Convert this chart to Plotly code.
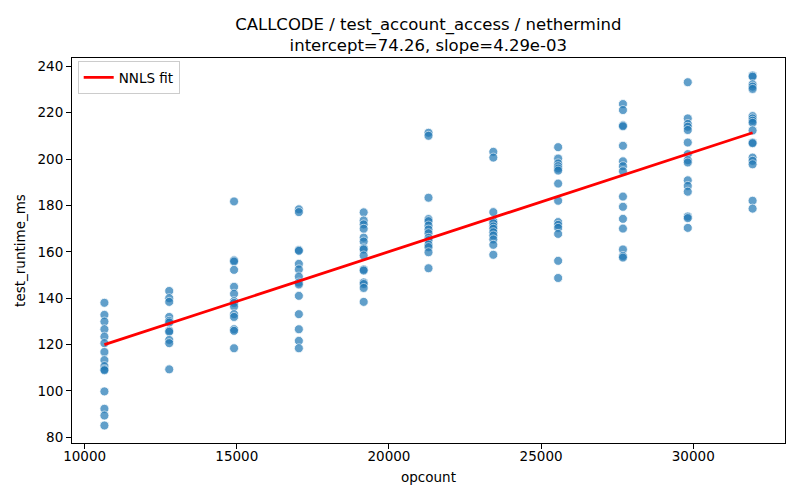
# %%
import plotly.graph_objects as go

# opcount levels (x) and measured runtimes per level
opcounts = [10650, 12780, 14910, 17040, 19170, 21300, 23430, 25560, 27690, 29820, 31950]

rt_10650 = [138.0, 132.8, 129.9, 126.6, 123.4, 120.6, 116.8, 113.3, 110.7, 109.3, 108.9, 99.8, 92.3, 89.4, 85.1]
rt_12780 = [143.1, 140.0, 138.4, 131.9, 130.2, 129.5, 126.0, 125.5, 122.0, 120.6, 109.3]
rt_14910 = [181.7, 156.3, 155.8, 152.2, 144.9, 141.9, 138.7, 137.9, 136.4, 133.1, 131.9, 126.6, 125.9, 118.4]
rt_17040 = [178.3, 177.1, 160.8, 160.4, 154.8, 152.4, 149.3, 146.7, 145.9, 141.0, 133.1, 126.6, 121.6, 118.4]
rt_19170 = [177.0, 173.5, 171.8, 169.9, 166.1, 164.4, 161.5, 161.0, 158.4, 152.4, 151.9, 146.8, 146.1, 144.4, 138.4]
rt_21300 = [211.3, 210.0, 183.3, 174.1, 173.2, 171.3, 169.6, 168.0, 166.0, 165.0, 163.1, 162.0, 159.8, 152.9]
rt_23430 = [203.1, 200.6, 177.1, 173.2, 172.3, 170.9, 169.9, 168.4, 167.0, 165.3, 163.0, 158.7]
rt_25560 = [205.1, 200.2, 198.1, 196.9, 195.9, 195.0, 189.4, 182.0, 172.8, 171.6, 170.3, 167.7, 156.1, 148.7]
rt_27690 = [223.7, 221.1, 214.5, 214.1, 205.7, 199.0, 196.9, 194.7, 183.8, 179.4, 174.2, 170.0, 161.0, 158.2, 157.5]
rt_29820 = [233.1, 217.5, 215.1, 213.9, 212.5, 207.1, 202.1, 199.5, 198.5, 190.8, 188.4, 185.9, 175.2, 174.5, 170.3]
rt_31950 = [236.0, 235.5, 232.2, 231.2, 230.2, 218.5, 217.5, 216.5, 215.6, 212.3, 207.1, 206.8, 200.6, 199.2, 197.7, 182.0, 178.6]

runtimes = [rt_10650, rt_12780, rt_14910, rt_17040, rt_19170, rt_21300,
            rt_23430, rt_25560, rt_27690, rt_29820, rt_31950]

# NNLS fit, from the title
intercept = 74.26
slope = 4.29e-03
fit_x = [10650, 31950]
fit_y = [119.95, 211.32]

x_ticks = [10000, 15000, 20000, 25000, 30000]
y_ticks = [80, 100, 120, 140, 160, 180, 200, 220, 240]

# %%
xs, ys = [], []
for oc, vals in zip(opcounts, runtimes):
    xs += [oc] * len(vals)
    ys += vals

# matplotlib-like 5% padding
xpad = (max(xs) - min(xs)) * 0.05
ypad = (max(ys) - min(ys)) * 0.05

fig = go.Figure()
fig.add_trace(go.Scatter(
    x=xs, y=ys, mode="markers", showlegend=False,
    marker=dict(size=9, color="#1f77b4", opacity=0.7,
                line=dict(color="white", width=0.8)),
))
fig.add_trace(go.Scatter(
    x=fit_x, y=fit_y, mode="lines", name="NNLS fit",
    line=dict(color="red", width=2.8),
))

axis_style = dict(
    showgrid=False, zeroline=False, showline=True, mirror=True,
    linecolor="black", linewidth=1.1, ticks="outside", ticklen=5,
    tickwidth=1.1, tickcolor="black", tickformat="d", automargin=False,
    tickfont=dict(size=13.5, color="black"),
)
fig.update_xaxes(axis_style, range=[min(xs) - xpad, max(xs) + xpad],
                 tickvals=x_ticks, ticklabelstandoff=-4,
                 title=dict(text="opcount", font=dict(size=13.5), standoff=9))
fig.update_yaxes(axis_style, range=[min(ys) - ypad, max(ys) + ypad],
                 tickvals=y_ticks, title=dict(text="test_runtime_ms", font=dict(size=13.5), standoff=8))

# page body has an 8px margin, so the figure is 8px smaller each way
fig.update_layout(
    width=792, height=492,
    template="simple_white",
    plot_bgcolor="white", paper_bgcolor="white",
    font=dict(family="DejaVu Sans", size=13.5, color="black"),
    title=dict(
        text=f"CALLCODE / test_account_access / nethermind<br>intercept={intercept:.2f}, slope={slope:.2e}",
        x=(63.6 + 777) / 2 / 792, xanchor="center", y=0.956, yanchor="top",
        font=dict(size=16.5, color="black"),
    ),
    margin=dict(l=64, r=15, t=50, b=57),
    legend=dict(
        x=0.008, y=0.992, xanchor="left", yanchor="top",
        bgcolor="rgba(255,255,255,0.8)", bordercolor="#cccccc", borderwidth=1,
        font=dict(size=13.5),
    ),
)

fig.write_html("out.html")
